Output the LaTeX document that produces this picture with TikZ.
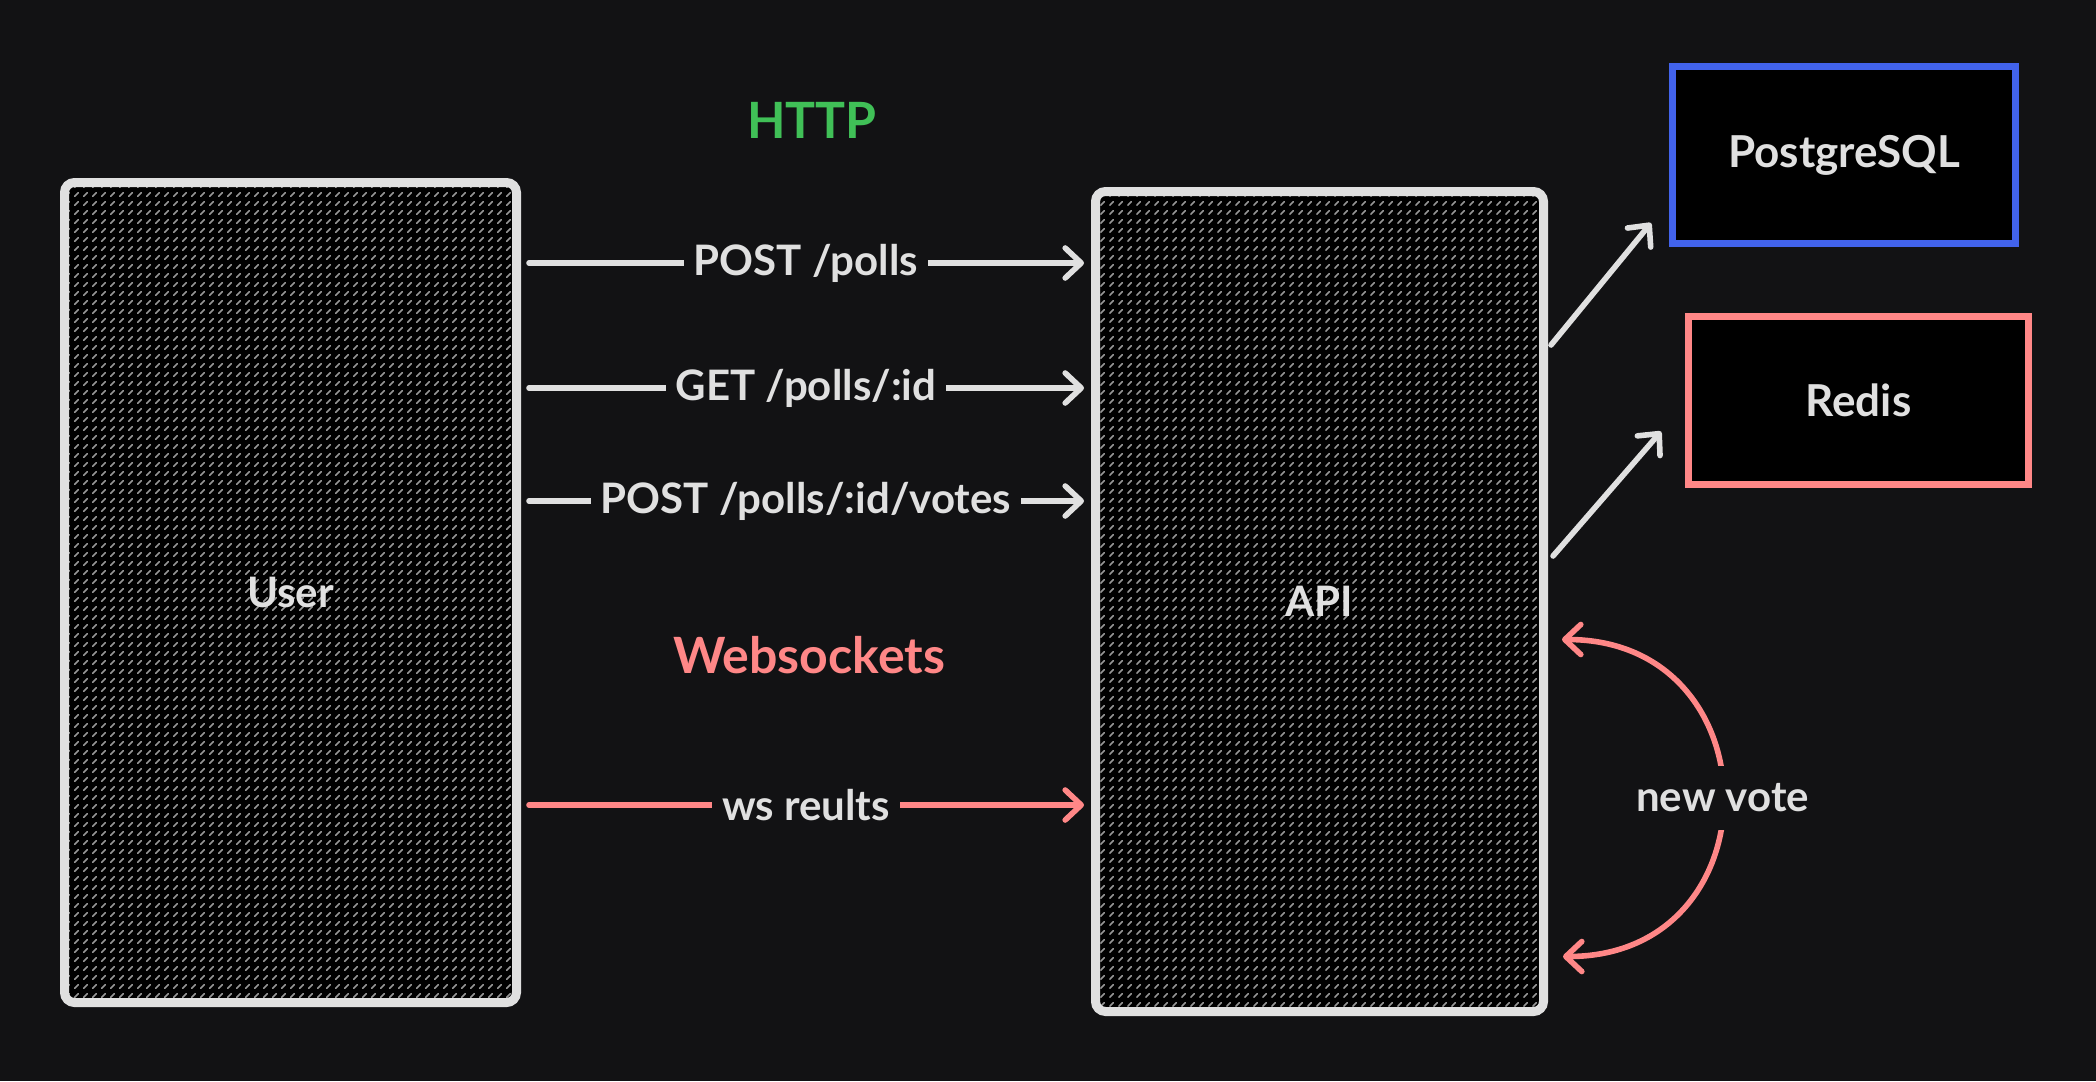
\documentclass[tikz,border=0pt]{standalone}
\usepackage{fontspec}
\setmainfont{Lato}
\usetikzlibrary{calc}
\usetikzlibrary{arrows.meta}
\usetikzlibrary{patterns.meta}

\definecolor{bg}{RGB}{18,18,20}
\definecolor{ink}{RGB}{224,224,224}
\definecolor{hatch}{RGB}{150,150,150}
\definecolor{httpgreen}{RGB}{64,192,87}
\definecolor{wspink}{RGB}{255,135,135}
\definecolor{pgblue}{RGB}{66,99,235}

\tikzdeclarepattern{
    name=hatchdash,
    type=uncolored,
    bottom left={(-0.1pt,-0.1pt)},
    top right={(4.6pt,4.6pt)},
    tile size={(4.5pt,4.5pt)},
    code={
        \draw[line width=0.8pt, line cap=round] (1.4pt,1.4pt) -- (3.1pt,3.1pt);
    }
}

\begin{document}
\begin{tikzpicture}[x=0.5pt,y=-0.5pt,
    txt/.style={text=ink, font=\bfseries\fontsize{21}{25}\selectfont},
    title/.style={font=\bfseries\fontsize{25}{30}\selectfont},
    box/.style={txt, draw=ink, line width=4.5pt, rounded corners=5pt, preaction={fill=black}, pattern=hatchdash, pattern color=hatch, minimum width=226pt, minimum height=410pt},
    store/.style={txt, line width=3.5pt, fill=black},
    flow/.style={draw=ink, line width=2.8pt, line cap=round, -{Straight Barb[length=8pt,width=15pt,round]}},
    tag/.style={txt, fill=bg, inner xsep=5pt, inner ysep=2pt}]

    \useasboundingbox[fill=bg] (0,0) rectangle (2096,1081);

    % main boxes
    \node[box] (user) at (290.5,592.5) {User};
    \node[box, minimum width=224pt] (api) at (1319.5,601.5) {API};

    % stores
    \node[store, draw=pgblue, minimum width=171.5pt, minimum height=88.5pt, font=\bfseries\fontsize{22}{26}\selectfont] (pg) at (1844,155) {PostgreSQL};
    \node[store, draw=wspink, minimum width=170pt, minimum height=84pt, font=\bfseries\fontsize{22}{26}\selectfont] (redis) at (1858.5,400.5) {Redis};

    % section titles
    \node[title, text=httpgreen] (http) at (812,120) {HTTP};
    \node[title, text=wspink] (ws) at (809,655) {Websockets};

    % http calls
    \foreach \dy/\call [count=\n] in {85/{POST /polls}, 210/{GET /polls/:id}, 323/{POST /polls/:id/votes}} {
        \draw[flow, shorten <=4pt, shorten >=3.5pt] ($(user.north east)+(0,\dy)$) coordinate (c\n) -- (c\n -| api.west)
            node[tag, midway] (call\n) {\call};
    }

    % websocket
    \draw[flow, draw=wspink, shorten <=4pt, shorten >=3.5pt] ($(user.north east)+(0,627)$) coordinate (w1) -- (w1 -| api.west)
        node[tag, midway] (wslbl) {ws reults};

    % api to stores
    \draw[flow] ($(api.north east)+(3,158)$) -- ($(pg.south west)+(-18,-24)$);
    \draw[flow] ($(api.north east)+(5,369)$) -- ($(redis.west)+(-24,31)$);

    % new vote loop
    \coordinate (vtop) at ($(api.east)+(14,38)$);
    \coordinate (vbot) at ($(api.east)+(15,355)$);
    \draw[flow, draw=wspink, {Straight Barb[length=8pt,width=15pt,round]}-{Straight Barb[length=8pt,width=15pt,round]}]
        (vtop) to[out=0, in=0, looseness=1.72] node[tag, inner ysep=9pt, inner xsep=2pt] (vote) {new vote} (vbot);
\end{tikzpicture}
\end{document}
